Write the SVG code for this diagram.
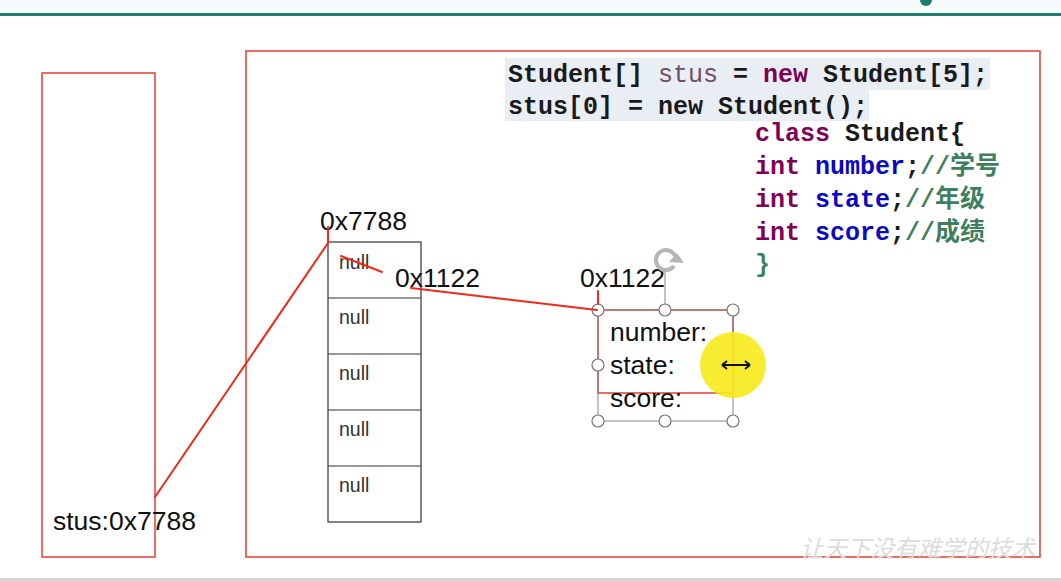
<svg xmlns="http://www.w3.org/2000/svg" width="1061" height="581" viewBox="0 0 1061 581">
<style>
.frame{fill:none;stroke:#e5493d;stroke-width:1.6}
.cell{fill:none;stroke:#333;stroke-width:1.2}
.sans{font-family:"Liberation Sans",Arial,sans-serif;fill:#111}
.lbl{font-size:26.5px}
.nul{font-size:19.5px;fill:#333}
.code{font-family:"Liberation Mono","DejaVu Sans Mono","Noto Sans CJK SC",monospace;font-size:25px;font-weight:bold;fill:#1a1a1a}
.kw{fill:#7f0055}
.var{fill:#6f4f62;font-weight:normal}
.fld{fill:#0a0ac0}
.cm{fill:#3f7f5f}
.wire{fill:none;stroke:#ee2a1a;stroke-width:2;stroke-linecap:round}
.sel{fill:none;stroke:#888;stroke-width:1}
.hdl{fill:#fff;stroke:#777;stroke-width:1.2}
</style>
<rect width="1061" height="581" fill="#fff"/>
<g id="header">
<rect x="0" y="0" width="1061" height="13" fill="#f6fbfb"/>
<rect x="0" y="13" width="1061" height="3" fill="#1e7b6e"/>
<circle cx="926" cy="0" r="6" fill="#1e7b6e"/>
</g>
<rect x="0" y="578" width="1061" height="3" fill="#d4d4d4"/>
<g id="stack">
<rect class="frame" x="42" y="73" width="113" height="484"/>
<text class="sans lbl" x="53" y="530">stus:0x7788</text>
</g>
<g id="heap">
<rect class="frame" x="246" y="51" width="794" height="506"/>
</g>
<g id="code">
<rect x="505" y="58" width="485" height="32" fill="#e9eef5"/>
<rect x="505" y="90" width="364" height="31" fill="#e9eef5"/>
<text class="code" x="508" y="82">Student[] <tspan class="var">stus</tspan> = <tspan class="kw">new</tspan> Student[5];</text>
<text class="code" x="508" y="114">stus[0] = new Student();</text>
<text class="code" x="755" y="141"><tspan class="kw">class</tspan> Student{</text>
<text class="code" x="755" y="174"><tspan class="kw">int</tspan> <tspan class="fld">number</tspan>;<tspan class="cm">//学号</tspan></text>
<text class="code" x="755" y="207"><tspan class="kw">int</tspan> <tspan class="fld">state</tspan>;<tspan class="cm">//年级</tspan></text>
<text class="code" x="755" y="240"><tspan class="kw">int</tspan> <tspan class="fld">score</tspan>;<tspan class="cm">//成绩</tspan></text>
<text class="code cm" x="755" y="272">}</text>
</g>
<g id="array">
<text class="sans lbl" x="320" y="230">0x7788</text>
<rect class="cell" x="328" y="242" width="93" height="280"/>
<line class="cell" x1="328" y1="298" x2="421" y2="298"/>
<line class="cell" x1="328" y1="354" x2="421" y2="354"/>
<line class="cell" x1="328" y1="410" x2="421" y2="410"/>
<line class="cell" x1="328" y1="466" x2="421" y2="466"/>
<text class="sans nul" x="339" y="269">null</text>
<text class="sans nul" x="339" y="324">null</text>
<text class="sans nul" x="339" y="380">null</text>
<text class="sans nul" x="339" y="436">null</text>
<text class="sans nul" x="339" y="492">null</text>
<text class="sans lbl" x="395" y="287">0x1122</text>
</g>
<g id="student">
<text class="sans lbl" x="580" y="287">0x1122</text>
<rect x="598" y="310" width="135" height="83" fill="none" stroke="#e5493d" stroke-width="1.6"/>
<text class="sans lbl" x="610" y="341">number:</text>
<text class="sans lbl" x="610" y="374">state:</text>
<text class="sans lbl" x="610" y="407">score:</text>
</g>
<g id="selection">
<rect class="sel" x="598" y="310" width="135" height="111"/>
<line class="sel" x1="665" y1="310" x2="665" y2="272"/>
<circle cx="733" cy="365" r="33" fill="#f7ea1a" opacity="0.9"/>
<circle class="hdl" cx="598" cy="310" r="6"/>
<circle class="hdl" cx="665" cy="310" r="6"/>
<circle class="hdl" cx="733" cy="310" r="6"/>
<circle class="hdl" cx="598" cy="365" r="6"/>
<circle class="hdl" cx="598" cy="421" r="6"/>
<circle class="hdl" cx="665" cy="421" r="6"/>
<circle class="hdl" cx="733" cy="421" r="6"/>
<path d="M674,266 A10,10 0 1 1 675,256" fill="none" stroke="#b5b5b5" stroke-width="4"/>
<path d="M669,262 l15,1 l-7,-10 z" fill="#b5b5b5"/>
<path d="M722,365 h28 M722,365 l5,-4 M722,365 l5,4 M750,365 l-5,-4 M750,365 l-5,4" fill="none" stroke="#111" stroke-width="2"/>
</g>
<g id="connectors">
<polyline class="wire" points="155,497 328,243"/>
<line class="wire" x1="328" y1="243" x2="328" y2="227"/>
<line class="wire" x1="341" y1="256" x2="382" y2="272"/>
<line class="wire" x1="411" y1="288" x2="597" y2="310"/>
<line class="wire" x1="598" y1="291" x2="598" y2="304"/>
</g>
<text x="800" y="557" font-family="'Noto Sans CJK SC',sans-serif" font-size="23.5" font-style="italic" fill="#dcdcdc">让天下没有难学的技术</text>
</svg>
